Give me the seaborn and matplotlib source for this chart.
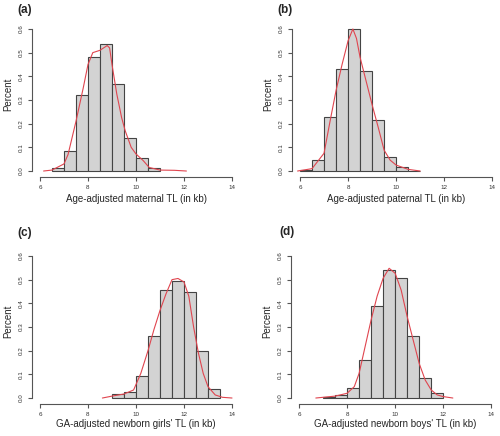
import numpy as np
import pandas as pd
import matplotlib
matplotlib.use("Agg")
import matplotlib.pyplot as plt
import seaborn as sns

sns.set_style("white")
plt.rcParams['font.family'] = ['Liberation Sans', 'DejaVu Sans']

# ---- data ----
panel_labels = ["(a)", "(b)", "(c)", "(d)"]
x_labels = ["Age-adjusted maternal TL (in kb)",
            "Age-adjusted paternal TL (in kb)",
            "GA-adjusted newborn girls' TL (in kb)",
            "GA-adjusted newborn boys' TL (in kb)"]

a_bin_start = 6.5
a_heights = [0.011, 0.083, 0.32, 0.48, 0.538, 0.368, 0.139, 0.056, 0.011]
a_curve_x = [6.15, 6.5, 7.0, 7.17, 7.5, 7.8, 8.0, 8.2, 8.5, 8.8, 8.9, 9.0, 9.2, 9.4, 9.55, 9.8, 10.0, 10.3, 10.55, 11.0, 11.6, 12.1]
a_curve_y = [0.0, 0.004, 0.03, 0.07, 0.21, 0.35, 0.45, 0.50, 0.51, 0.53, 0.52, 0.45, 0.325, 0.226, 0.17, 0.10, 0.072, 0.044, 0.015, 0.004, 0.003, 0.0]

b_bin_start = 6.0
b_heights = [0.005, 0.045, 0.228, 0.43, 0.60, 0.424, 0.217, 0.059, 0.015, 0.002]
b_curve_x = [5.9, 6.5, 7.0, 7.25, 7.5, 7.75, 8.0, 8.2, 8.35, 8.5, 8.75, 9.0, 9.25, 9.5, 9.75, 10.0, 10.5, 11.0]
b_curve_y = [0.0, 0.01, 0.075, 0.21, 0.34, 0.45, 0.55, 0.60, 0.56, 0.48, 0.38, 0.28, 0.186, 0.088, 0.046, 0.025, 0.007, 0.0]

c_bin_start = 9.0
c_heights = [0.017, 0.024, 0.093, 0.26, 0.456, 0.496, 0.448, 0.2, 0.037]
c_curve_x = [8.6, 9.0, 9.5, 9.9, 10.2, 10.5, 10.75, 11.0, 11.25, 11.5, 11.75, 12.0, 12.2, 12.4, 12.6, 12.8, 13.0, 13.3, 13.6, 14.0]
c_curve_y = [0.0, 0.008, 0.017, 0.034, 0.104, 0.2, 0.29, 0.37, 0.44, 0.5, 0.505, 0.49, 0.43, 0.30, 0.19, 0.104, 0.048, 0.013, 0.003, 0.0]

d_bin_start = 7.0
d_heights = [0.003, 0.014, 0.041, 0.16, 0.387, 0.542, 0.508, 0.262, 0.086, 0.02]
d_curve_x = [6.7, 7.0, 7.5, 8.0, 8.3, 8.5, 8.75, 9.0, 9.25, 9.5, 9.75, 10.0, 10.25, 10.5, 10.75, 11.0, 11.25, 11.5, 11.75, 12.0, 12.4]
d_curve_y = [0.0, 0.003, 0.008, 0.02, 0.048, 0.104, 0.217, 0.33, 0.43, 0.506, 0.548, 0.527, 0.456, 0.344, 0.245, 0.146, 0.076, 0.034, 0.013, 0.006, 0.0]

x_ticks = [6, 8, 10, 12, 14]
y_ticks = [0.0, 0.1, 0.2, 0.3, 0.4, 0.5, 0.6]
bin_width = 0.5

panels = [
    (a_bin_start, a_heights, a_curve_x, a_curve_y),
    (b_bin_start, b_heights, b_curve_x, b_curve_y),
    (c_bin_start, c_heights, c_curve_x, c_curve_y),
    (d_bin_start, d_heights, d_curve_x, d_curve_y),
]

W, H = 500, 436
fig = plt.figure(figsize=(W / 100, H / 100), dpi=100)

# axes rectangles in pixels: (left, top, right, bottom)
rects_px = [
    (32.3, 23.3, 239.7, 176.7),
    (292.3, 23.3, 500.0, 176.7),
    (32.3, 250.3, 239.7, 403.7),
    (291.3, 250.3, 499.0, 403.7),
]
label_pos_px = [(17, 4), (277, 4), (17, 227), (279, 226)]
xlabel_y = [-0.148, -0.148, -0.132, -0.132]

axis_grey = "#555555"
for i, (start, heights, cx, cy) in enumerate(panels):
    l, t, r, b = rects_px[i]
    ax = fig.add_axes([l / W, 1 - b / H, (r - l) / W, (b - t) / H])
    n = len(heights)
    centers = [start + bin_width * (k + 0.5) for k in range(n)]
    df = pd.DataFrame({"x": centers, "w": heights})
    sns.histplot(data=df, x="x", weights="w", binwidth=bin_width,
                 binrange=(start, start + bin_width * n), stat="count",
                 color="#D3D3D3", edgecolor="#444444", linewidth=0.8,
                 alpha=1.0, ax=ax)
    cdf = pd.DataFrame({"x": cx, "y": cy})
    sns.lineplot(data=cdf, x="x", y="y", color="#E0454F", linewidth=0.8,
                 ax=ax, sort=True)
    ax.set_xlim(5.68, 14.32)
    ax.set_ylim(-0.024, 0.624)
    ax.set_xticks(x_ticks)
    ax.set_yticks(y_ticks)
    ax.set_xticklabels([str(v) for v in x_ticks], fontsize=4.5, color="#333333")
    ax.set_yticklabels([f"{v:.1f}" for v in y_ticks], fontsize=4.5,
                       rotation=90, va="center", color="#333333")
    for s in ["top", "right"]:
        ax.spines[s].set_visible(False)
    ax.spines["bottom"].set_bounds(6, 14)
    ax.spines["left"].set_bounds(0, 0.6)
    for s in ["bottom", "left"]:
        ax.spines[s].set_color(axis_grey)
        ax.spines[s].set_linewidth(0.8)
    ax.tick_params(axis="both", direction="out", length=3, width=0.8,
                   color=axis_grey, pad=3, bottom=True, left=True)
    ax.set_xlabel(x_labels[i], fontsize=7)
    ax.xaxis.set_label_coords(0.5, xlabel_y[i])
    ax.xaxis.label.set_va("center")
    ax.set_ylabel("Percent", fontsize=7)
    ax.yaxis.set_label_coords(-0.117, 0.54)
    ax.yaxis.label.set_va("center")
    px, py = label_pos_px[i]
    fig.text(px / W, 1 - py / H, panel_labels[i], fontsize=8.5,
             fontweight="bold", ha="left", va="top")

fig.savefig("out.png", dpi=100)
